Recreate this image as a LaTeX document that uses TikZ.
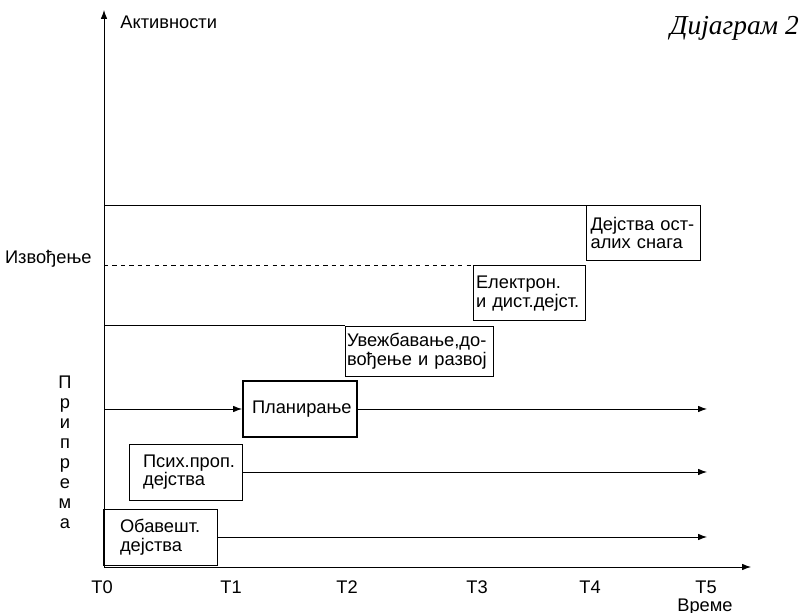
\documentclass[tikz,border=0pt]{standalone}
\usepackage{fontspec}
\setmainfont{Liberation Sans}
\newfontfamily\titlefont{Liberation Serif}
\usepackage{tikz}
\usetikzlibrary{arrows.meta}
\usetikzlibrary{positioning}
\tikzset{
% Define standard arrow tip
>={Latex[length=2.2mm, width=1.6mm]},
box/.style={rectangle, draw=black, line width=0.6pt, align=left, inner ysep=0pt},
lbl/.style={inner sep=0}
}

\begin{document}
\begin{tikzpicture}[line width=0.6pt, font=\fontsize{13}{13.2}\selectfont]
  \useasboundingbox (0,0) rectangle (20,15.325);
  % axes
  \coordinate (o) at (2.6,1.15);
  \coordinate (ytip) at (2.6,15.075);
  \coordinate (xtip) at (18.775,1.15);
  \coordinate (xend) at (17.675,1.15);
  \draw[->] (o) -- (ytip);
  \draw[->] (o) -- (xtip);
  \node[lbl, anchor=west] (act) at (3.0,14.775) {Активности};
  \node[lbl, anchor=base] (vreme) at (17.625,0.05) {Време};
  \node[lbl, anchor=east] (izv) at (2.3,8.85) {Извођење};
  \node[lbl, anchor=base east] (title) at (19.98,14.45) {\titlefont\itshape\fontsize{19.5}{20}\selectfont Дијаграм 2};

  % time marks
  \foreach \t/\x in {0/2.55, 1/5.775, 2/8.675, 3/11.925, 4/14.75, 5/17.65}
    \node[lbl, anchor=base] (t\t) at (\x,0.5) {T\t};

  % priprema, vertical
  \foreach \c [count=\i] in {П,р,и,п,р,е,м,а}
    \node[lbl, anchor=base] (pr\i) at (1.625,{6.1-0.5*\i}) {\c};

  % boxes
  \node[box, text width=2.65cm, inner xsep=0.1cm, minimum height=1.375cm] (ost) at (16.09,9.5) {\mbox{Дејства~ост-}\\\mbox{алих~снага}};
  \node[box, text width=2.65cm, inner xsep=0.075cm, minimum height=1.375cm] (el) at (13.225,7.99) {\mbox{Електрон.}\\\mbox{и~дист.дејст.}};
  \node[box, text width=3.63cm, inner xsep=0.03cm, minimum height=1.25cm] (uv) at (10.49,6.55) {\mbox{Увежбавање,до-}\\\mbox{вођење~и~развој}};
  \node[box, line width=1.4pt, text width=2.4cm, inner xsep=0.225cm, minimum height=1.4cm] (plan) at (7.5,5.1) {Планирање};
  \node[box, text width=2.125cm, inner xsep=0.35cm, minimum height=1.4cm] (psih) at (4.64,3.525) {Псих.проп.\\дејства};
  \node[box, text width=2.0cm, inner xsep=0.425cm, minimum height=1.4cm] (obav) at (4.0,1.9) {Обавешт.\\дејства};

  % levels
  \draw (o |- ost.north) -- (ost.north east);
  \draw[dashed] (o |- el.north) -- (el.north west);
  \draw (o |- uv.north) -- (uv.north west);

  % flows
  \draw[->] (o |- plan.west) -- (plan.west);
  \draw[->] (plan.east) -- (plan.east -| xend);
  \draw[->] (psih.east) -- (psih.east -| xend);
  \draw[->] (obav.east) -- (obav.east -| xend);
\end{tikzpicture}
\end{document}
